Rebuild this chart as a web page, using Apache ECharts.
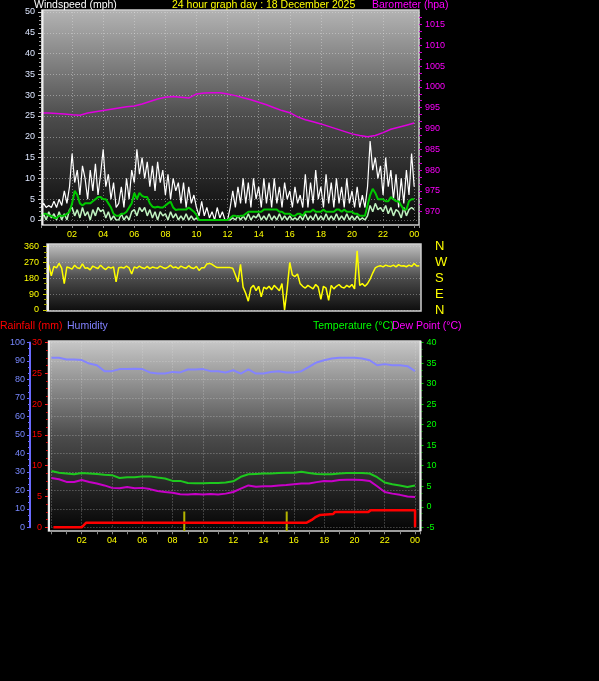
<!DOCTYPE html>
<html>
<head>
<meta charset="utf-8">
<script src="https://cdn.jsdelivr.net/npm/echarts@6.0.0/dist/echarts.min.js"></script>
<style>
html, body { margin: 0; padding: 0; background: #000; }
#chart { width: 599px; height: 681px; }
</style>
</head>
<body>
<div id="chart"></div>
<script>
// wind, mph, one reading every 10 minutes from 00:00
const windGust = [
  3, 4, 3, 3.5, 3, 4.5,
  3, 5, 3.5, 7, 4, 8,
  16, 9, 12, 6, 13, 10,
  5, 12, 7, 13.5, 6, 11,
  17, 8, 11, 5, 9, 3,
  4, 8, 3, 10, 5, 12,
  9, 17, 11, 15, 10, 14,
  8, 13, 7, 14, 9, 12,
  6, 11, 5, 10, 7, 9,
  4, 9, 3, 8, 4, 6,
  3, 1, 4.5, 1, 3, 0.5,
  2, 0, 3, 0.5, 2, 0,
  0, 3, 7, 3, 8, 4,
  10, 4, 9, 3, 10, 5,
  8, 3, 10, 4, 9, 3,
  10, 4, 8, 3, 9, 5,
  7, 3, 8, 4, 6, 3,
  11, 3, 9, 4, 12, 5,
  8, 3, 11, 4, 9, 3,
  10, 4, 8, 3, 10, 4,
  7, 3, 8, 3, 6, 3,
  8, 19, 12, 15, 10, 13,
  6, 15, 8, 12, 5, 11,
  3, 10, 4, 12, 6, 16,
  8
];
const windAvg = [
  1, 1.5, 1.5, 1, 1, 0.5,
  0.5, 1, 1, 1, 1.5, 2,
  4, 7, 6, 4, 3.5, 4,
  4, 4, 4.5, 5, 5.5, 5.5,
  5, 5, 4, 3, 1.5, 1,
  1, 1.5, 1.5, 2, 3, 4,
  6.5, 5, 6.5, 5.8, 5.5, 5.5,
  4, 3.2, 3, 3.2, 3, 3,
  3.5, 4, 4.4, 3, 2.4, 2.5,
  2.5, 2.5, 2.5, 3, 2.5, 2,
  1.2, 0, 0, 0, 0, 0,
  0, 0, 0, 0, 0, 0,
  0, 0.5, 1, 1, 0.8, 1,
  1, 1.5, 2, 2, 2, 2,
  2, 2, 2.5, 2.5, 2.5, 2.5,
  2.5, 2.5, 2, 2, 1.5, 1.5,
  1.5, 1, 1, 1.5, 1.5, 1,
  2, 2, 2, 2.5, 2, 2,
  2, 2.5, 2, 2, 2, 2,
  2.5, 2.5, 2, 2.5, 2, 2,
  2, 1.5, 1.5, 1, 1, 1,
  3.5, 6, 7.5, 6.5, 5, 5,
  5, 4.5, 4.5, 5.5, 5, 4.5,
  4.5, 3.5, 2.5, 2.5, 4.5, 5,
  5
];
const windLull = [
  0, 1.5, 0, 2, 0.5, 1.5,
  0, 2, 0, 1.5, 0, 2.5,
  3, 1, 2.5, 0.5, 3, 1,
  2, 0, 2.5, 1, 3, 2,
  2.5, 0.5, 2, 0, 1, 0,
  0, 1.5, 0, 1, 0, 2,
  2.5, 1, 3, 2, 3, 1,
  2.5, 0.5, 2, 0, 2, 1,
  1.5, 0, 2, 0.5, 1.5, 0,
  1, 0, 1.5, 0, 1, 0,
  0.5, 0, 0, 0, 0, 0,
  0, 0, 0, 0, 0, 0,
  0, 0, 0.5, 0, 1, 0,
  1, 0, 1.5, 0, 1, 0.5,
  1.5, 0, 1, 0, 1.5, 0,
  1, 0, 1.5, 0, 1, 0,
  1, 0, 0.5, 0, 1, 0,
  1.5, 0, 1, 0, 1.5, 0,
  1, 0, 1.5, 0, 1, 0,
  1.5, 0, 1, 0, 1.5, 0,
  1, 0, 1, 0, 0.5, 0,
  1, 3.5, 2, 4, 2.5, 3,
  2, 3.5, 1.5, 3, 1, 2.5,
  2, 0.5, 3, 1, 2.5, 3,
  2.5
];
// wind direction, degrees, every 10 minutes from 00:30
const windDir = [
  258, 195, 248, 240, 265, 238,
  150, 245, 240, 232, 255, 240,
  236, 262, 238, 240, 228, 250,
  242, 236, 255, 240, 230, 245,
  238, 245, 160, 240, 243, 238,
  250, 240, 205, 245, 238, 250,
  240, 236, 248, 235, 244, 240,
  238, 250, 242, 236, 244, 255,
  240, 245, 235, 250, 242, 238,
  252, 240, 236, 248, 225, 240,
  240, 262, 265, 260, 250, 241,
  241, 241, 241, 241, 241, 238,
  200, 160, 260, 130, 95, 50,
  125, 140, 110, 135, 75, 130,
  120, 135, 115, 140, 125, 110,
  150, 0, 120, 270, 200, 190,
  205, 150, 135, 125, 140, 130,
  120, 145, 130, 60, 135, 125,
  55, 140, 120, 135, 145, 130,
  125, 140, 130, 145, 120, 336,
  140, 150, 135, 150, 175, 210,
  240, 248, 252, 245, 255, 250,
  248, 255, 245, 258, 250, 252,
  246, 255, 248, 265, 250, 252
];
// barometer hPa, every 30 minutes from 00:00
const baro = [
  993.7, 993.7, 993.6, 993.5, 993.3, 993.2, 993.7, 994.0, 994.3, 994.6,
  994.9, 995.2, 995.4, 995.9, 996.5, 997.1, 997.5, 997.7, 997.5, 997.3,
  998.3, 998.5, 998.6, 998.6, 998.3, 997.9, 997.4, 996.9, 996.3, 995.7,
  995.0, 994.3, 993.8, 992.8, 992.1, 991.6, 991.1, 990.5, 989.9, 989.3,
  988.7, 988.3, 988.0, 988.3, 989.0, 989.8, 990.3, 990.8, 991.3
];
// temperature, dew point (C) and humidity (%), every 30 minutes from 00:00
const temp = [
  8.7, 8.3, 8.1, 7.9, 8.2, 8.1, 8.0, 7.8, 7.7, 7.0,
  7.2, 7.2, 7.4, 7.4, 7.1, 6.9, 6.3, 6.3, 5.8, 5.7,
  5.7, 5.8, 5.8, 5.9, 6.2, 7.3, 7.9, 8.0, 8.1, 8.1,
  8.2, 8.3, 8.3, 8.5, 8.2, 8.0, 7.9, 7.9, 8.1, 8.2,
  8.2, 8.2, 8.1, 7.2, 5.9, 5.5, 5.2, 4.8, 5.2
];
const dewPoint = [
  7.0, 6.7, 6.05, 6.05, 6.5, 6.05, 5.66, 5.2, 4.6, 4.5,
  4.8, 4.5, 4.6, 4.3, 3.85, 3.6, 3.4, 3.05, 3.0, 3.1,
  3.0, 3.1, 3.0, 3.2, 3.6, 4.4, 5.2, 4.9, 5.0, 5.0,
  5.2, 5.3, 5.5, 5.66, 5.66, 6.0, 6.3, 6.2, 6.5, 6.6,
  6.6, 6.5, 6.3, 5.0, 3.6, 3.2, 2.9, 2.5, 2.4
];
const humidity = [
  91.7, 91.7, 90.8, 90.8, 90.5, 88.6, 87.7, 84.5, 84.5, 85.6,
  85.6, 85.8, 85.6, 83.8, 83.2, 83.2, 84.1, 83.8, 85.4, 85.4,
  85.6, 84.5, 84.5, 83.8, 85.0, 83.2, 85.4, 83.2, 83.2, 84.0,
  84.5, 83.8, 83.8, 84.5, 86.8, 89.2, 90.4, 91.3, 91.7, 91.7,
  91.7, 91.3, 90.4, 87.7, 88.3, 87.7, 87.7, 87.2, 84.5
];
// rainfall total (mm) at given hours
const rainHours = [0.13, 2.0, 2.3, 16.85, 17.18, 17.4, 17.73, 18.6, 18.72, 20.92, 21.07, 24.0, 24.0];
const rainTotal = [0, 0, 0.75, 0.75, 1.2, 1.6, 2.0, 2.15, 2.5, 2.5, 2.75, 2.75, 0];
// rain rate marks
const rateHours = [8.77, 15.53];
const rateTop = 2.55;
const rateBase = -0.6;

const hourLabels = ['', '02', '04', '06', '08', '10', '12', '14', '16', '18', '20', '22', '00'];
const baroLabels = [970, 975, 980, 985, 990, 995, 1000, 1005, 1010, 1015];
const compass = { 0: 'N', 90: 'E', 180: 'S', 270: 'W', 360: 'N' };

const FONT = '"Liberation Sans", Arial, sans-serif';

const pairs = (vals, start, step) => vals.map((v, i) => [start + i * step, v]);

const rateData = [];
rateHours.forEach(h => {
  rateData.push([h, rateBase], [h, rateTop], [h, '-']);
});

// baro ticks: labelled values plus two minor ones between
const baroTicks = [];
baroLabels.forEach(v => {
  baroTicks.push(v, v + 5 / 3, v + 10 / 3);
});

const hourFmt = v => (Number.isInteger(v) && v % 2 === 0) ? hourLabels[v / 2] : '';

const dotted = { color: 'rgba(225,225,225,0.45)', type: [1, 2], width: 1 };

const plotBg = (x, y, w, h, c0, c1) => ({
  type: 'rect',
  z: -10,
  silent: true,
  shape: { x, y, width: w, height: h },
  style: {
    fill: new echarts.graphic.LinearGradient(0, 0, 0, 1, [
      { offset: 0, color: c0 },
      { offset: 0.5, color: '#4c4c4c' },
      { offset: 1, color: c1 }
    ]),
    stroke: '#cfcfcf',
    lineWidth: 1.5
  }
});
const edge = (x, y1, y2) => ({
  type: 'line',
  z: 50,
  silent: true,
  shape: { x1: x, y1, x2: x, y2 },
  style: { stroke: '#f0f0f0', lineWidth: 2 }
});

const title = (text, left, top, color) => ({
  text, left, top, padding: 0,
  textStyle: { color, fontSize: 10.5, fontWeight: 'normal', fontFamily: FONT }
});

const chart = echarts.init(document.getElementById('chart'));
chart.setOption({
  backgroundColor: '#000',
  animation: false,
  textStyle: { fontFamily: FONT },
  title: [
    title('Windspeed (mph)', 34, 0, '#ffffff'),
    title('24 hour graph day : 18 December 2025', 172, 0, '#ffff00'),
    title('Barometer (hpa)', 372, 0, '#ff00ff'),
    title('Rainfall (mm)', 0, 321, '#ff0000'),
    title('Humidity', 67, 321, '#8080ff'),
    title('Temperature (°C)', 313, 321, '#00ff00'),
    title('Dew Point (°C)', 392, 321, '#ff00ff')
  ],
  graphic: [
    plotBg(42, 10, 377, 215, '#b4b4b4', '#080808'),
    plotBg(47, 244, 374, 67, '#c4c4c4', '#0c0c0c'),
    plotBg(48.5, 341, 372, 190, '#c8c8c8', '#040404'),
    edge(42.5, 10, 225),
    edge(48, 244, 311),
    edge(49, 341, 531),
    edge(420.5, 341, 531)
  ],
  grid: [
    { left: 41, top: 12, width: 378, height: 208 },
    { left: 47, top: 246.7, width: 374, height: 63.3 },
    { left: 51.4, top: 342.5, width: 369.1, height: 184.8 }
  ],
  xAxis: [
    {
      gridIndex: 0, type: 'value', min: 0, max: 24.31, interval: 2, offset: 5,
      axisLine: { show: false, onZero: false },
      axisTick: { show: true, length: 3, lineStyle: { color: '#8a8a8a' } },
      minorTick: { show: true, splitNumber: 2, length: 3, lineStyle: { color: '#8a8a8a' } },
      axisLabel: { formatter: hourFmt, color: '#ffff00', fontSize: 9, margin: 5, showMaxLabel: false },
      splitLine: { show: true, lineStyle: dotted }
    },
    { gridIndex: 1, type: 'value', min: 0.39, max: 24.44, show: false },
    {
      gridIndex: 2, type: 'value', min: 0, max: 24.36, interval: 2, offset: 4,
      axisLine: { show: false, onZero: false },
      axisTick: { show: true, length: 3, lineStyle: { color: '#8a8a8a' } },
      minorTick: { show: true, splitNumber: 2, length: 3, lineStyle: { color: '#8a8a8a' } },
      axisLabel: { formatter: hourFmt, color: '#ffff00', fontSize: 9, margin: 5, showMaxLabel: false },
      splitLine: { show: true, lineStyle: dotted }
    }
  ],
  yAxis: [
    {
      gridIndex: 0, type: 'value', min: 0, max: 50, interval: 5, position: 'left',
      axisLine: { show: false, onZero: false },
      axisTick: { show: true, length: 3, lineStyle: { color: '#c8c8c8' } },
      minorTick: { show: true, splitNumber: 5, length: 2, lineStyle: { color: '#a0a0a0' } },
      axisLabel: { color: '#dde6ff', fontSize: 9, margin: 6 },
      splitLine: { show: true, lineStyle: dotted }
    },
    {
      gridIndex: 0, type: 'value', min: 968, max: 1018, position: 'right',
      axisLine: { show: false, onZero: false },
      axisTick: { show: true, length: 3, customValues: baroTicks, lineStyle: { color: '#d000d0' } },
      axisLabel: { color: '#ff00ff', fontSize: 9, margin: 6, customValues: baroLabels, formatter: v => String(v) },
      splitLine: { show: false }
    },
    {
      gridIndex: 1, type: 'value', min: 0, max: 360, interval: 90, position: 'left',
      axisLine: { show: false, onZero: false },
      axisTick: { show: true, length: 4, lineStyle: { color: '#c8c800' } },
      minorTick: { show: true, splitNumber: 3, length: 3, lineStyle: { color: '#a0a000' } },
      axisLabel: { color: '#ffff00', fontSize: 9, margin: 8 },
      splitLine: { show: true, lineStyle: { color: 'rgba(215,215,215,0.4)', type: [1, 2] } }
    },
    {
      gridIndex: 1, type: 'value', min: 0, max: 360, interval: 90, position: 'right',
      axisLine: { show: false, onZero: false }, axisTick: { show: false },
      axisLabel: { color: '#ffff00', fontSize: 13, margin: 14, formatter: v => compass[v] || '' },
      splitLine: { show: false }
    },
    {
      gridIndex: 2, type: 'value', min: 0, max: 100, interval: 10, position: 'left', offset: 21.4,
      axisLine: { show: true, onZero: false, lineStyle: { color: '#6a6aff', width: 2 } },
      axisTick: { show: true, length: 3, lineStyle: { color: '#6a6aff' } },
      minorTick: { show: true, splitNumber: 3, length: 2, lineStyle: { color: '#6a6aff' } },
      axisLabel: { color: '#7888ff', fontSize: 9, margin: 5 },
      splitLine: { show: true, lineStyle: dotted }
    },
    {
      gridIndex: 2, type: 'value', min: 0, max: 30, interval: 5, position: 'left', offset: 3.4,
      axisLine: { show: false, onZero: false },
      axisTick: { show: true, length: 3, lineStyle: { color: '#ff2020' } },
      minorTick: { show: true, splitNumber: 4, length: 2, lineStyle: { color: '#d01010' } },
      axisLabel: { color: '#ff0000', fontSize: 9, margin: 6 },
      splitLine: { show: false }
    },
    {
      gridIndex: 2, type: 'value', min: -5, max: 40, interval: 5, position: 'right',
      axisLine: { show: false, onZero: false },
      axisTick: { show: true, length: 3, lineStyle: { color: '#00c000' } },
      minorTick: { show: true, splitNumber: 3, length: 2, lineStyle: { color: '#00a000' } },
      axisLabel: { color: '#00ff00', fontSize: 9, margin: 6 },
      splitLine: { show: false }
    }
  ],
  series: [
    {
      name: 'gust', type: 'line', xAxisIndex: 0, yAxisIndex: 0, symbol: 'none',
      data: pairs(windGust, 0, 1 / 6), lineStyle: { color: '#ffffff', width: 1.2 }
    },
    {
      name: 'lull', type: 'line', xAxisIndex: 0, yAxisIndex: 0, symbol: 'none',
      data: pairs(windLull, 0, 1 / 6), lineStyle: { color: '#bff2bf', width: 1.5 }
    },
    {
      name: 'average', type: 'line', xAxisIndex: 0, yAxisIndex: 0, symbol: 'none',
      data: pairs(windAvg, 0, 1 / 6), lineStyle: { color: '#00c800', width: 2 }
    },
    {
      name: 'barometer', type: 'line', xAxisIndex: 0, yAxisIndex: 1, symbol: 'none',
      data: pairs(baro, 0, 0.5), lineStyle: { color: '#e000e0', width: 1.5 }
    },
    {
      name: 'direction', type: 'line', xAxisIndex: 1, yAxisIndex: 2, symbol: 'none',
      data: pairs(windDir, 0.5, 1 / 6), lineStyle: { color: '#ffff00', width: 1.5 }
    },
    {
      name: 'humidity', type: 'line', xAxisIndex: 2, yAxisIndex: 4, symbol: 'none',
      data: pairs(humidity, 0, 0.5), lineStyle: { color: '#8484ff', width: 2 }
    },
    {
      name: 'temperature', type: 'line', xAxisIndex: 2, yAxisIndex: 6, symbol: 'none',
      data: pairs(temp, 0, 0.5), lineStyle: { color: '#1ec81e', width: 2 }
    },
    {
      name: 'dew point', type: 'line', xAxisIndex: 2, yAxisIndex: 6, symbol: 'none',
      data: pairs(dewPoint, 0, 0.5), lineStyle: { color: '#c800c8', width: 2 }
    },
    {
      name: 'rain rate', type: 'line', xAxisIndex: 2, yAxisIndex: 5, symbol: 'none', clip: false,
      data: rateData, lineStyle: { color: '#b4b400', width: 2 }
    },
    {
      name: 'rainfall', type: 'line', xAxisIndex: 2, yAxisIndex: 5, symbol: 'none', clip: false,
      data: rainHours.map((h, i) => [h, rainTotal[i]]), lineStyle: { color: '#ff0000', width: 2.5 }
    }
  ]
});
</script>
</body>
</html>
